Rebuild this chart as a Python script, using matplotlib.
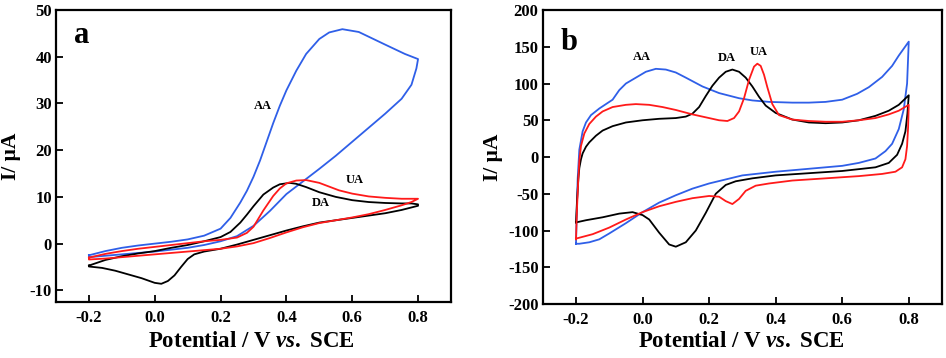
import matplotlib
matplotlib.use('Agg')
import matplotlib.pyplot as plt

plt.rcParams['font.family'] = 'Liberation Serif'
plt.rcParams['font.weight'] = 'bold'
plt.rcParams['axes.unicode_minus'] = False
plt.rcParams['mathtext.fontset'] = 'custom'
plt.rcParams['mathtext.it'] = 'Liberation Serif:italic:bold'
plt.rcParams['mathtext.rm'] = 'Liberation Serif:bold'

# ---- panel a : CV loops (forward scan then reverse scan) ----
a_aa_v = [-0.2, -0.15, -0.1, -0.05, 0.0, 0.05, 0.1, 0.15, 0.2, 0.23, 0.26, 0.28, 0.3, 0.32, 0.34,
          0.36, 0.38, 0.4, 0.43, 0.46, 0.5, 0.53, 0.57, 0.62, 0.7, 0.76, 0.8,
          0.795, 0.78, 0.75, 0.7, 0.65, 0.6, 0.55, 0.5, 0.45, 0.4, 0.35, 0.3, 0.25, 0.2, 0.15,
          0.1, 0.05, 0.0, -0.05, -0.1, -0.15, -0.2, -0.2]
a_aa_i = [-2.5, -1.6, -0.9, -0.4, 0.0, 0.4, 0.9, 1.7, 3.2, 5.5, 8.8, 11.3, 14.3, 17.8, 21.8,
          25.8, 29.5, 32.8, 37.0, 40.6, 43.8, 45.2, 45.9, 45.3, 42.6, 40.6, 39.5,
          37.5, 34.0, 31.0, 27.8, 24.8, 21.8, 18.8, 16.0, 13.3, 10.6, 7.0, 3.8, 1.6, 0.5, -0.3,
          -0.9, -1.3, -1.7, -2.0, -2.3, -2.6, -2.9, -2.5]

a_da_v = [-0.2, -0.15, -0.1, -0.05, 0.0, 0.05, 0.1, 0.15, 0.2, 0.23, 0.26, 0.28, 0.3, 0.33, 0.36,
          0.38, 0.41, 0.43, 0.46, 0.5, 0.55, 0.6, 0.65, 0.7, 0.75, 0.78, 0.8,
          0.8, 0.75, 0.7, 0.6, 0.5, 0.45, 0.4, 0.35, 0.3, 0.25, 0.2, 0.15, 0.12, 0.1, 0.08,
          0.06, 0.04, 0.02, 0.0, -0.04, -0.08, -0.12, -0.16, -0.2, -0.2]
a_da_i = [-4.7, -3.5, -2.7, -2.1, -1.6, -0.9, -0.3, 0.5, 1.4, 2.5, 4.5, 6.2, 8.0, 10.5, 12.0,
          12.7, 13.0, 12.8, 12.1, 11.0, 10.0, 9.3, 8.9, 8.7, 8.6, 8.6, 8.4,
          8.1, 7.2, 6.5, 5.5, 4.5, 3.7, 2.8, 1.8, 0.8, -0.2, -1.1, -1.7, -2.3, -3.3, -5.0,
          -6.8, -8.0, -8.6, -8.4, -7.4, -6.6, -5.8, -5.2, -4.9, -4.7]

a_ua_v = [-0.2, -0.15, -0.1, -0.05, 0.0, 0.05, 0.1, 0.15, 0.2, 0.25, 0.28, 0.3, 0.33, 0.36, 0.38,
          0.4, 0.43, 0.46, 0.5, 0.53, 0.56, 0.6, 0.65, 0.7, 0.75, 0.8,
          0.78, 0.75, 0.7, 0.65, 0.6, 0.55, 0.5, 0.45, 0.4, 0.35, 0.3, 0.25, 0.2, 0.15, 0.1,
          0.05, 0.0, -0.05, -0.1, -0.15, -0.2, -0.2]
a_ua_i = [-3.0, -2.2, -1.6, -1.1, -0.7, -0.3, 0.1, 0.5, 0.8, 1.3, 2.3, 3.6, 7.1, 10.2, 11.8,
          12.9, 13.5, 13.6, 13.0, 12.2, 11.4, 10.7, 10.1, 9.8, 9.6, 9.6,
          8.9, 8.2, 7.2, 6.3, 5.6, 5.0, 4.4, 3.5, 2.4, 1.2, 0.1, -0.6, -1.1, -1.4, -1.7,
          -2.0, -2.3, -2.6, -2.9, -3.2, -3.4, -3.0]

# ---- panel b ----
b_aa_v = [-0.2, -0.198, -0.195, -0.19, -0.18, -0.17, -0.155, -0.13, -0.11, -0.09, -0.07, -0.05,
          -0.02, 0.01, 0.04, 0.07, 0.1, 0.13, 0.18, 0.23, 0.29, 0.33, 0.38, 0.45, 0.5, 0.55, 0.6,
          0.645, 0.68, 0.72, 0.75, 0.77, 0.8,
          0.795, 0.785, 0.77, 0.75, 0.73, 0.7, 0.65, 0.6, 0.5, 0.4, 0.3, 0.2, 0.15, 0.1, 0.05,
          0.0, -0.05, -0.1, -0.13, -0.16, -0.19, -0.2]
b_aa_i = [-118, -80, -30, 10, 35, 47, 57, 66, 72, 78, 91, 100,
          108, 116, 120, 119, 115, 108, 96, 87, 80, 77, 75, 74, 74, 75, 78,
          86, 95, 109, 124, 138, 157,
          100, 65, 38, 18, 8, -2, -8, -12, -16, -20, -25, -36, -43, -52, -62,
          -75, -90, -104, -112, -116, -118, -118]

b_da_v = [-0.2, -0.197, -0.193, -0.19, -0.185, -0.18, -0.17, -0.16, -0.14, -0.12, -0.09, -0.05,
          0.0, 0.05, 0.1, 0.13, 0.15, 0.17, 0.19, 0.21, 0.23, 0.25, 0.27, 0.29, 0.31, 0.33,
          0.35, 0.37, 0.4, 0.45, 0.5, 0.55, 0.6, 0.65, 0.7, 0.74, 0.77, 0.8,
          0.796, 0.79, 0.78, 0.765, 0.74, 0.7, 0.6, 0.5, 0.4, 0.33, 0.28, 0.25, 0.22, 0.19,
          0.16, 0.13, 0.1, 0.08, 0.05, 0.02, 0.0, -0.03, -0.07, -0.12, -0.17, -0.2]
b_da_i = [-89, -60, -30, -15, -3, 5, 14, 20, 29, 36, 42, 47,
          50, 52, 53, 55, 59, 68, 83, 97, 108, 116, 119, 116, 108, 96,
          82, 70, 60, 51, 47, 46, 47, 50, 56, 63, 71, 84,
          59, 35, 18, 3, -8, -14, -19, -22, -25, -29, -33, -38, -50, -76,
          -100, -116, -122, -119, -103, -85, -79, -75, -77, -82, -86, -89]

b_ua_v = [-0.2, -0.197, -0.193, -0.19, -0.185, -0.175, -0.16, -0.14, -0.12, -0.09, -0.05, -0.02,
          0.02, 0.06, 0.1, 0.15, 0.2, 0.23, 0.255, 0.275, 0.29, 0.305, 0.32, 0.335, 0.345,
          0.355, 0.365, 0.375, 0.39, 0.41, 0.45, 0.5, 0.55, 0.6, 0.65, 0.7, 0.74, 0.77, 0.8,
          0.798, 0.795, 0.79, 0.78, 0.76, 0.72, 0.65, 0.55, 0.45, 0.38, 0.34, 0.31, 0.29, 0.27,
          0.25, 0.23, 0.2, 0.15, 0.1, 0.05, 0.0, -0.05, -0.1, -0.15, -0.2]
b_ua_i = [-112, -70, -30, -5, 15, 32, 45, 55, 62, 68, 71, 72,
          71, 68, 64, 58, 53, 50, 49, 53, 62, 80, 105, 123, 127,
          124, 112, 95, 72, 57, 51, 49, 48, 48, 50, 53, 58, 63, 71,
          40, 15, -3, -14, -20, -23, -26, -29, -32, -36, -39, -46, -57, -64,
          -60, -54, -53, -56, -61, -67, -75, -85, -96, -105, -111]

x_ticks = [-0.2, 0.0, 0.2, 0.4, 0.6, 0.8]
a_yticks = [-10, 0, 10, 20, 30, 40, 50]
b_yticks = [-200, -150, -100, -50, 0, 50, 100, 150, 200]

c_blue = '#2f5fe8'
c_red = '#ff1a1a'
c_black = 'black'

fig = plt.figure(figsize=(9.46, 3.58), dpi=100)
ax1 = fig.add_axes([0.0592, 0.1564, 0.4175, 0.8156])
ax2 = fig.add_axes([0.5737, 0.1508, 0.4221, 0.8212])

ax1.plot(a_aa_v, a_aa_i, color=c_blue, lw=1.3)
ax1.plot(a_da_v, a_da_i, color=c_black, lw=1.3)
ax1.plot(a_ua_v, a_ua_i, color=c_red, lw=1.3)
ax1.set_ylim(-12.5, 50)
ax1.set_yticks(a_yticks)

ax2.plot(b_aa_v, b_aa_i, color=c_blue, lw=1.3)
ax2.plot(b_da_v, b_da_i, color=c_black, lw=1.3)
ax2.plot(b_ua_v, b_ua_i, color=c_red, lw=1.3)
ax2.set_ylim(-200, 200)
ax2.set_yticks(b_yticks)

for ax in (ax1, ax2):
    ax.set_xlim(-0.3, 0.9)
    ax.set_xticks(x_ticks)
    ax.set_xticklabels(['%.1f' % t for t in x_ticks])
    ax.tick_params(axis='both', direction='in', length=5, width=1.3, labelsize=12)
    ax.tick_params(axis='x', pad=6)
    ax.tick_params(axis='y', pad=3)
    for s in ax.spines.values():
        s.set_linewidth(1.6)
    for lab in ax.get_xticklabels() + ax.get_yticklabels():
        lab.set_fontweight('bold')
    ax.set_xlabel(r'Potential / V $\it{vs.}$ SCE', fontsize=16.5, fontweight='bold')
    ax.set_ylabel('I/ μA', fontsize=15.5, fontweight='bold')

ax1.xaxis.set_label_coords(0.495, -0.10)
ax2.xaxis.set_label_coords(0.498, -0.093)
ax1.yaxis.set_label_coords(-0.089, 0.5)
ax2.yaxis.set_label_coords(-0.099, 0.5)

ax1.text(0.065, 0.914, 'a', transform=ax1.transAxes, fontsize=22, fontweight='bold',
         ha='center', va='center')
ax2.text(0.067, 0.889, 'b', transform=ax2.transAxes, fontsize=22, fontweight='bold',
         ha='center', va='center')

# peak labels
ax1.text(0.33, 29.4, 'AA', fontsize=9, fontweight='bold', ha='center', va='center')
ax1.text(0.608, 13.7, 'UA', fontsize=9, fontweight='bold', ha='center', va='center')
ax1.text(0.506, 8.8, 'DA', fontsize=9, fontweight='bold', ha='center', va='center')
ax2.text(-0.002, 136.5, 'AA', fontsize=9, fontweight='bold', ha='center', va='center')
ax2.text(0.252, 135, 'DA', fontsize=9, fontweight='bold', ha='center', va='center')
ax2.text(0.349, 143, 'UA', fontsize=9, fontweight='bold', ha='center', va='center')

plt.savefig('out.png', dpi=100)
